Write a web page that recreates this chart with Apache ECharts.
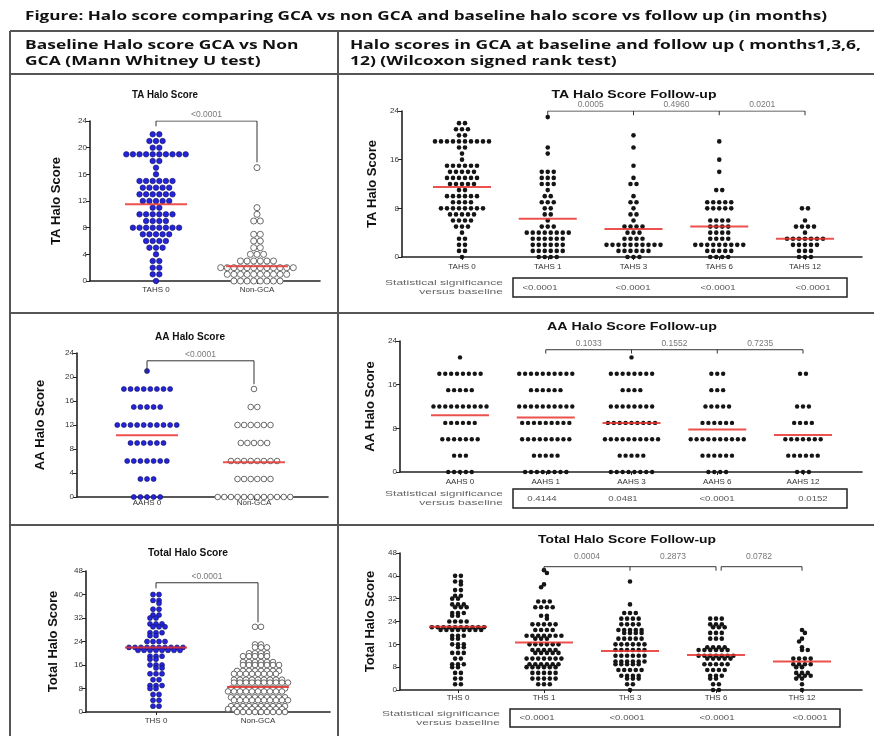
<!DOCTYPE html>
<html><head><meta charset="utf-8">
<script src="https://cdn.jsdelivr.net/npm/echarts@6/dist/echarts.min.js"></script>
<style>html,body{margin:0;padding:0;background:#fff}#c{width:877px;height:736px}</style>
</head><body><div id="c"></div>
<script>
// ---------------- DATA ----------------
const FIG_TITLE = 'Figure: Halo score comparing GCA vs non GCA and baseline halo score vs follow up (in months)';
const HEAD_L = ['Baseline Halo score GCA vs Non', 'GCA (Mann Whitney U test)'];
const HEAD_R = ['Halo scores in GCA at baseline and follow up ( months1,3,6,', '12) (Wilcoxon signed rank test)'];

const TA_L_CATS = ['TAHS 0', 'Non-GCA'];
const TA_R_CATS = ['TAHS 0', 'TAHS 1', 'TAHS 3', 'TAHS 6', 'TAHS 12'];
const AA_L_CATS = ['AAHS 0', 'Non-GCA'];
const AA_R_CATS = ['AAHS 0', 'AAHS 1', 'AAHS 3', 'AAHS 6', 'AAHS 12'];
const TH_L_CATS = ['THS 0', 'Non-GCA'];
const TH_R_CATS = ['THS 0', 'THS 1', 'THS 3', 'THS 6', 'THS 12'];

const TA_L_YTICKS = [0, 4, 8, 12, 16, 20, 24];
const TA_R_YTICKS = [0, 8, 16, 24];
const AA_L_YTICKS = [0, 4, 8, 12, 16, 20, 24];
const AA_R_YTICKS = [0, 8, 16, 24];
const TH_L_YTICKS = [0, 8, 16, 24, 32, 40, 48];
const TH_R_YTICKS = [0, 8, 16, 24, 32, 40, 48];

// frequency tables: [score, number of patients]
const TAHS0 = [[22,2],[21,3],[20,2],[19,10],[18,2],[17,1],[16,1],[15,6],[14,5],[13,6],[12,5],[11,2],[10,6],[9,4],[8,8],[7,5],[6,4],[5,3],[4,1],[3,2],[2,2],[1,2],[0,1]];
const TA_NONGCA = [[17,1],[11,1],[10,1],[9,2],[7,2],[6,2],[5,2],[4,3],[3,6],[2,12],[1,10],[0,8]];
const TAHS1 = [[23,1],[18,1],[17,1],[14,3],[13,3],[12,3],[11,1],[10,2],[9,3],[8,2],[7,2],[6,1],[5,3],[4,8],[3,6],[2,6],[1,6],[0,4]];
const TAHS3 = [[20,1],[18,1],[15,1],[13,1],[12,2],[10,1],[9,2],[8,1],[7,2],[6,1],[5,4],[4,3],[3,4],[2,10],[1,6],[0,3]];
const TAHS6 = [[19,1],[16,1],[14,1],[11,2],[9,5],[8,5],[6,4],[5,4],[4,4],[3,4],[2,9],[1,5],[0,4]];
const TAHS12 = [[8,2],[6,1],[5,4],[4,1],[3,7],[2,5],[1,3],[0,3]];

const AAHS0 = [[21,1],[18,8],[15,5],[12,10],[9,6],[6,7],[3,3],[0,5]];
const AA_NONGCA = [[18,1],[15,2],[12,6],[9,5],[6,8],[3,6],[0,12]];
const AAHS1 = [[18,10],[15,6],[12,10],[9,9],[6,9],[3,5],[0,8]];
const AAHS3 = [[21,1],[18,8],[15,4],[12,8],[9,9],[6,10],[3,5],[0,8]];
const AAHS6 = [[18,3],[15,3],[12,5],[9,6],[6,10],[3,6],[0,4]];
const AAHS12 = [[18,2],[12,3],[9,4],[6,7],[3,6],[0,3]];

const THS0 = [[40,2],[38,2],[37,1],[35,2],[33,2],[32,2],[30,3],[29,3],[27,3],[26,2],[24,4],[22,10],[21,8],[19,3],[18,2],[16,3],[15,2],[13,3],[11,2],[9,3],[8,2],[6,2],[4,2],[2,2]];
const TH_NONGCA = [[29,2],[23,2],[22,3],[20,4],[19,5],[17,6],[16,7],[14,8],[13,8],[11,9],[10,10],[8,10],[7,10],[5,10],[4,10],[2,10],[1,10],[0,9]];
const THS1 = [[42,1],[41,1],[37,1],[36,1],[31,3],[29,4],[26,2],[25,1],[23,5],[21,4],[19,7],[18,3],[16,6],[14,5],[13,5],[11,7],[9,6],[8,6],[6,5],[4,5],[2,3]];
const THS3 = [[38,1],[30,1],[27,3],[25,4],[23,4],[21,5],[20,4],[18,5],[16,6],[14,6],[12,6],[10,6],[9,5],[7,5],[5,4],[4,3],[2,2],[0,1]];
const THS6 = [[25,3],[23,3],[22,3],[20,3],[18,3],[15,4],[14,6],[12,7],[11,5],[9,5],[7,4],[5,3],[4,2],[2,2],[0,2]];
const THS12 = [[21,1],[20,1],[18,1],[17,1],[15,1],[14,2],[11,4],[9,4],[8,2],[6,3],[5,3],[4,2],[2,1],[0,1]];

// central (red) lines
const TA_L_CENTER = [11.5, 2.2];
const TA_R_CENTER = [11.5, 6.3, 4.6, 5.0, 3.0];
const AA_L_CENTER = [10.3, 5.8];
const AA_R_CENTER = [10.4, 10.0, 9.0, 7.8, 6.8];
const TH_L_CENTER = [22.0, 8.5];
const TH_R_CENTER = [22.2, 16.6, 13.7, 12.3, 10.0];

// p values
const TA_L_P = '<0.0001';
const AA_L_P = '<0.0001';
const TH_L_P = '<0.0001';
const TA_R_PAIR_P = ['0.0005', '0.4960', '0.0201'];
const AA_R_PAIR_P = ['0.1033', '0.1552', '0.7235'];
const TH_R_PAIR_P = ['0.0004', '0.2873', '0.0782'];
const TA_R_VS_BASE = ['<0.0001', '<0.0001', '<0.0001', '<0.0001'];
const AA_R_VS_BASE = ['0.4144', '0.0481', '<0.0001', '0.0152'];
const TH_R_VS_BASE = ['<0.0001', '<0.0001', '<0.0001', '<0.0001'];
const SIG_LABEL = ['Statistical significance', 'versus baseline'];

// ---------------- LAYOUT / STYLE ----------------
const BLUE = {color:'#2424dc', borderColor:'#10105a', borderWidth:0.6};
const BLACK = {color:'#151515'};
const OPEN = {color:'#ffffff', borderColor:'#6a6a6a', borderWidth:1};
const RED = '#e8322e';
const AXC = '#222';
const NARROW = '"Liberation Sans Narrow","Liberation Sans",Arial,sans-serif';
const SANS = '"Liberation Sans",Arial,sans-serif';

const panels = [
  {left:90, right:320, top:121, bottom:281, c0:156, dx:101, yt:TA_L_YTICKS, yname:'TA Halo Score', gap:27,
   cats:TA_L_CATS, groups:[TAHS0, TA_NONGCA], styles:[BLUE, OPEN], center:TA_L_CENTER, size:5.5, step:6.6, medW:62, lm:5,
   title:'TA Halo Score', tx:165, ty:95, tw:66, kind:'L', br:{top:24, l:23.2, r:17.8}, p:TA_L_P},
  {left:402, right:862, top:111, bottom:257, c0:462, dx:85.75, yt:TA_R_YTICKS, yname:'TA Halo Score', gap:21,
   cats:TA_R_CATS, groups:[TAHS0, TAHS1, TAHS3, TAHS6, TAHS12], styles:[BLACK,BLACK,BLACK,BLACK,BLACK], center:TA_R_CENTER, size:4.6, step:6.0, medW:58, lm:6,
   title:'TA Halo Score Follow-up', tx:634, ty:95, tw:165, kind:'R', br:{top:24, leg:0.7}, p:TA_R_PAIR_P,
   sig:TA_R_VS_BASE, box:{x1:513, x2:847, y1:278, y2:297, vx:[540,633,718,813], lx:503}},
  {left:77, right:328, top:353, bottom:497, c0:147, dx:107, yt:AA_L_YTICKS, yname:'AA Halo Score', gap:30,
   cats:AA_L_CATS, groups:[AAHS0, AA_NONGCA], styles:[BLUE, OPEN], center:AA_L_CENTER, size:5, step:6.6, medW:62, lm:2,
   title:'AA Halo Score', tx:190, ty:337, tw:70, kind:'L', br:{top:22.7, l:20.7, r:18.8}, p:AA_L_P},
  {left:400, right:862, top:341, bottom:472, c0:460, dx:85.75, yt:AA_R_YTICKS, yname:'AA Halo Score', gap:21,
   cats:AA_R_CATS, groups:[AAHS0, AAHS1, AAHS3, AAHS6, AAHS12], styles:[BLACK,BLACK,BLACK,BLACK,BLACK], center:AA_R_CENTER, size:4.4, step:5.9, medW:58, lm:6,
   title:'AA Halo Score Follow-up', tx:632, ty:327, tw:170, kind:'R', br:{top:22.4, leg:0.7}, p:AA_R_PAIR_P,
   sig:AA_R_VS_BASE, box:{x1:513, x2:847, y1:489, y2:508, vx:[542,623,717,813], lx:503}},
  {left:86, right:330, top:571, bottom:712, c0:156, dx:102, yt:TH_L_YTICKS, yname:'Total Halo Score', gap:26,
   cats:TH_L_CATS, groups:[THS0, TH_NONGCA], styles:[BLUE, OPEN], center:TH_L_CENTER, size:5, step:6.0, medW:62, lm:5,
   title:'Total Halo Score', tx:188, ty:553, tw:80, kind:'L', br:{top:44, l:42.1, r:30.5}, p:TH_L_P},
  {left:400, right:862, top:553, bottom:690, c0:458, dx:86, yt:TH_R_YTICKS, yname:'Total Halo Score', gap:22,
   cats:TH_R_CATS, groups:[THS0, THS1, THS3, THS6, THS12], styles:[BLACK,BLACK,BLACK,BLACK,BLACK], center:TH_R_CENTER, size:4.6, step:5.8, medW:58, lm:4,
   title:'Total Halo Score Follow-up', tx:627, ty:540, tw:178, kind:'RT', br:{top:43.2, leg:1.4}, p:TH_R_PAIR_P,
   sig:TH_R_VS_BASE, box:{x1:510, x2:840, y1:709, y2:727, vx:[537,627,717,810], lx:500}}
];

// ---------------- HELPERS ----------------
// rows of equal scores, centred on the category; a row that would overlap the row just above is shifted by half a step
function rowPoints(freq, gi, step, D, pyPerUnit, dxPx) {
  const rows = freq.slice().sort((a, b) => b[0] - a[0]);
  const pts = [];
  let prev = null, flip = 1;
  rows.forEach(([v, n]) => {
    const y = v * pyPerUnit;
    let xs = [];
    for (let i = 0; i < n; i++) xs.push((i - (n - 1) / 2) * step);
    if (prev && prev.y - y < D) {
      const dy = prev.y - y;
      const hit = xs.some(x => prev.xs.some(px => (x - px) * (x - px) + dy * dy < 0.8 * D * D));
      if (hit) { const s = step / 2 * flip; xs = xs.map(x => x + s); flip = -flip; }
    }
    xs.forEach(x => pts.push([gi + x / dxPx, v]));
    prev = {y:y, xs:xs};
  });
  return pts;
}
const mctx = document.createElement('canvas').getContext('2d');
function fitScale(text, font, target) { mctx.font = font; const w = mctx.measureText(text).width; return w > 0 ? target / w : 1; }
function gText(text, x, y, o) {
  const font = (o.weight || 'normal') + ' ' + o.size + 'px ' + (o.family || SANS);
  const sx = o.width ? fitScale(text, font, o.width) : (o.sx || 1);
  return {type:'text', x:x, y:y, scaleX:sx, silent:true, z:50,
    style:{text:text, font:font, fill:o.color || '#222', textAlign:o.align || 'left', align:o.align || 'left',
      textVerticalAlign:'middle', verticalAlign:'middle'}};
}
function gLine(x1, y1, x2, y2, w, c) {
  return {type:'line', silent:true, z:40, shape:{x1:x1, y1:y1, x2:x2, y2:y2}, style:{stroke:c || '#444', lineWidth:w || 1.5}};
}

// ---------------- BUILD ----------------
const grids = [], xAxes = [], yAxes = [], series = [], graphics = [];
const SIG_FONT = 'normal 8px ' + SANS;
const sigScale = fitScale(SIG_LABEL[0], SIG_FONT, 118);

panels.forEach((p, k) => {
  const n = p.cats.length;
  const xmin = -(p.c0 - p.left) / p.dx, xmax = (n - 1) + (p.right - (p.c0 + (n - 1) * p.dx)) / p.dx;
  const idx = p.cats.map((c, i) => i);
  const yt = p.yt, ymax = yt[yt.length - 1];
  grids.push({left:p.left, top:p.top, width:p.right - p.left, height:p.bottom - p.top, outerBoundsMode:'none', containLabel:false});
  xAxes.push({type:'value', gridIndex:k, min:xmin, max:xmax, splitLine:{show:false},
    axisLine:{show:true, onZero:false, lineStyle:{color:AXC, width:1.6}},
    axisTick:{show:true, customValues:idx, length:3, lineStyle:{color:AXC, width:1}},
    axisLabel:{show:true, customValues:idx, formatter:(v) => p.cats[Math.round(v)] || '', fontSize:8, color:'#333', margin:p.lm, fontFamily:SANS}});
  yAxes.push({type:'value', gridIndex:k, min:yt[0], max:ymax, interval:yt[1] - yt[0], splitLine:{show:false},
    name:p.yname, nameLocation:'middle', nameGap:p.gap, nameRotate:90,
    nameTextStyle:{fontSize:13, fontWeight:'bold', fontFamily:NARROW, color:'#111'},
    axisLine:{show:true, onZero:false, lineStyle:{color:AXC, width:1.6}},
    axisTick:{show:true, length:4, lineStyle:{color:AXC, width:1}},
    axisLabel:{fontSize:8, color:'#333', margin:3, fontFamily:SANS}});

  const pyPerUnit = (p.bottom - p.top) / ymax;
  p.groups.forEach((freq, gi) => {
    const st = p.styles[gi];
    const sz = st === OPEN ? p.size + 0.6 : p.size;
    series.push({type:'scatter', xAxisIndex:k, yAxisIndex:k, silent:true, animation:false, z:3,
      symbol:'circle', symbolSize:sz,
      itemStyle:Object.assign({opacity:1}, st), data:rowPoints(freq, gi, p.step, sz, pyPerUnit, p.dx)});
  });
  series.push({type:'scatter', xAxisIndex:k, yAxisIndex:k, silent:true, animation:false, z:5,
    symbol:'rect', symbolSize:[p.medW, 2], itemStyle:{color:RED, opacity:0.85},
    data:p.center.map((v, i) => [i, v])});

  const b = p.br;
  const lineSer = (coords) => ({type:'lines', coordinateSystem:'cartesian2d', xAxisIndex:k, yAxisIndex:k, polyline:true,
    silent:true, animation:false, z:4, lineStyle:{color:'#333', width:1, opacity:1}, data:coords.map(c => ({coords:c}))});
  const labelSer = (items) => ({type:'scatter', xAxisIndex:k, yAxisIndex:k, silent:true, animation:false, z:6,
    symbolSize:1, itemStyle:{color:'rgba(0,0,0,0)'},
    label:{show:true, position:'top', distance:1, fontSize:8.5, color:'#555', fontFamily:SANS, formatter:(d) => d.data.t},
    data:items.map(it => ({value:it.v, t:it.t}))});
  if (p.kind === 'L') {
    series.push(lineSer([[[0, b.l], [0, b.top], [1, b.top], [1, b.r]]]));
    series.push(labelSer([{v:[0.5, b.top], t:p.p}]));
  } else if (p.kind === 'R') {
    const segs = [[[1, b.top], [4, b.top]]];
    [1, 2, 3, 4].forEach(i => segs.push([[i, b.top], [i, b.top - b.leg]]));
    series.push(lineSer(segs));
    series.push(labelSer(p.p.map((t, i) => ({v:[1.5 + i, b.top], t:t}))));
  } else {
    const segs = [[[1, b.top], [3, b.top]], [[3.06, b.top], [4, b.top]]];
    [1, 2, 3, 3.06, 4].forEach(i => segs.push([[i, b.top], [i, b.top - b.leg]]));
    series.push(lineSer(segs));
    series.push(labelSer(p.p.map((t, i) => ({v:[1.5 + i, b.top + 1.5], t:t}))));
  }

  graphics.push(gText(p.title, p.tx, p.ty, {size:10, weight:'bold', width:p.tw, align:'center', color:'#111'}));

  if (p.box) {
    const bx = p.box, ym = (bx.y1 + bx.y2) / 2;
    graphics.push({type:'rect', silent:true, z:40, shape:{x:bx.x1, y:bx.y1, width:bx.x2 - bx.x1, height:bx.y2 - bx.y1},
      style:{fill:'none', stroke:'#222', lineWidth:1.5}});
    p.sig.forEach((t, i) => graphics.push(gText(t, bx.vx[i], ym, {size:8, align:'center', color:'#555', sx:1.2})));
    graphics.push(gText(SIG_LABEL[0], bx.lx, ym - 4.5, {size:8, align:'right', color:'#666', sx:sigScale}));
    graphics.push(gText(SIG_LABEL[1], bx.lx, ym + 4.5, {size:8, align:'right', color:'#666', sx:sigScale}));
  }
});

// table frame and headers
const TBL = {l:10, r:874, t:31, h:74, r1:313, r2:525, b:736, col:338};
graphics.push(gLine(TBL.l, TBL.t, TBL.r, TBL.t, 2, '#555'));
graphics.push(gLine(TBL.l, TBL.h, TBL.r, TBL.h, 2, '#555'));
graphics.push(gLine(TBL.l, TBL.r1, TBL.r, TBL.r1, 2, '#555'));
graphics.push(gLine(TBL.l, TBL.r2, TBL.r, TBL.r2, 2, '#555'));
graphics.push(gLine(TBL.l, TBL.t, TBL.l, TBL.b, 2, '#555'));
graphics.push(gLine(TBL.col, TBL.t, TBL.col, TBL.b, 2, '#555'));

const HF = '"Open Sans",sans-serif';
graphics.push(gText(FIG_TITLE, 25, 17, {size:11.5, weight:'bold', family:HF, width:802, color:'#111'}));
const hScale = fitScale(HEAD_R[0], 'bold 11.5px ' + HF, 511);
graphics.push(gText(HEAD_L[0], 25, 46, {size:11.5, weight:'bold', family:HF, sx:hScale, color:'#111'}));
graphics.push(gText(HEAD_L[1], 25, 62, {size:11.5, weight:'bold', family:HF, sx:hScale, color:'#111'}));
graphics.push(gText(HEAD_R[0], 350, 46, {size:11.5, weight:'bold', family:HF, sx:hScale, color:'#111'}));
graphics.push(gText(HEAD_R[1], 350, 62, {size:11.5, weight:'bold', family:HF, sx:hScale, color:'#111'}));

const chart = echarts.init(document.getElementById('c'), null, {renderer:'canvas', width:877, height:736});
chart.setOption({
  animation:false, backgroundColor:'#fff',
  grid:grids, xAxis:xAxes, yAxis:yAxes, series:series, graphic:{elements:graphics}
});
</script>
</body></html>
